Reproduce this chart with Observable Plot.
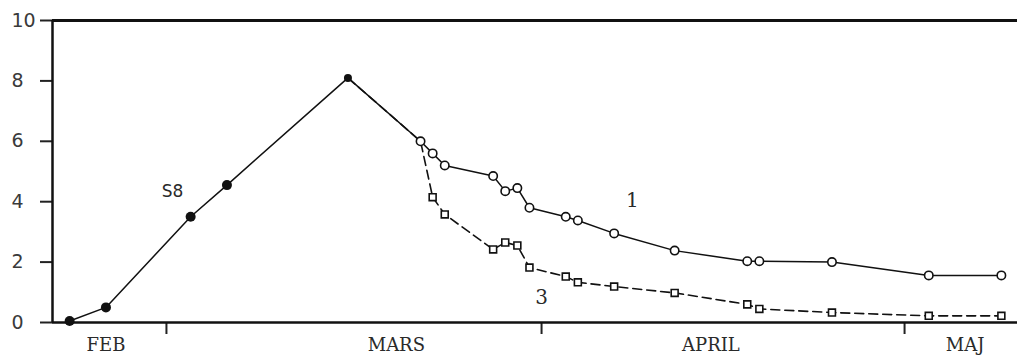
<!DOCTYPE html>
<html>
<head>
<meta charset="utf-8">
<script src="https://cdn.jsdelivr.net/npm/d3@7"></script>
<script src="https://cdn.jsdelivr.net/npm/@observablehq/plot@0.6"></script>
<style>
  html, body { margin: 0; padding: 0; background: #fff; }
  #chart svg { display: block; }
  #chart svg text.serif-label { letter-spacing: 1px; }
</style>
</head>
<body>
<div id="chart"></div>
<script>
// Measured values (same season), ISO dates
const s8Dates   = ["1978-02-21", "1978-02-24", "1978-03-03", "1978-03-06", "1978-03-16"];
const s8Values  = [0.05, 0.5, 3.5, 4.55, 8.1];

// Curve 1 (open circles, solid), starting at the S8 peak
const c1Dates  = ["1978-03-16", "1978-03-22", "1978-03-23", "1978-03-24", "1978-03-28", "1978-03-29",
                  "1978-03-30", "1978-03-31", "1978-04-03", "1978-04-04", "1978-04-07", "1978-04-12",
                  "1978-04-18", "1978-04-19", "1978-04-25", "1978-05-03", "1978-05-09"];
const c1Values = [8.1, 6.0, 5.6, 5.2, 4.85, 4.35, 4.45, 3.8, 3.5, 3.38, 2.95, 2.38,
                  2.03, 2.03, 2.0, 1.56, 1.56];

// Curve 3 (open squares, dashed), branching off at 22 March
const c3Dates  = ["1978-03-16", "1978-03-22", "1978-03-23", "1978-03-24", "1978-03-28", "1978-03-29",
                  "1978-03-30", "1978-03-31", "1978-04-03", "1978-04-04", "1978-04-07", "1978-04-12",
                  "1978-04-18", "1978-04-19", "1978-04-25", "1978-05-03", "1978-05-09"];
const c3Values = [8.1, 6.0, 4.15, 3.58, 2.42, 2.65, 2.55, 1.82, 1.52, 1.33, 1.19, 0.98,
                  0.6, 0.45, 0.33, 0.22, 0.22];

// Axis: month boundaries, month names, y ticks
const monthStarts = ["1978-03-01", "1978-04-01", "1978-05-01"];
const monthNames  = ["FEB", "MARS", "APRIL", "MAJ"];
const monthLabelDates = ["1978-02-24", "1978-03-20", "1978-04-15", "1978-05-06"];
const yTicks = [0, 2, 4, 6, 8, 10];

// Curve labels
const curveLabels = ["S8", "1", "3"];
const curveLabelDates = ["1978-03-01T12:00", "1978-04-08T12:00", "1978-04-01"];
const curveLabelValues = [4.35, 4.05, 0.82];

const parse = s => new Date(s.length > 10 ? s + "Z" : s + "T00:00Z");
const rows = (dates, values) => dates.map((d, i) => ({date: parse(d), value: values[i]}));

const s8 = rows(s8Dates, s8Values);
const c1 = rows(c1Dates, c1Values);
const c3 = rows(c3Dates, c3Values);
const labels = curveLabels.map((t, i) => ({text: t, date: parse(curveLabelDates[i]), value: curveLabelValues[i]}));
const monthLabelMap = new Map(monthLabelDates.map((d, i) => [+parse(d), monthNames[i]]));

const xStart = parse("1978-02-19T14:00");
const xEnd = parse("1978-05-10T08:00");
const serif = "'DejaVu Serif', serif";
const sans = "'DejaVu Sans', sans-serif";

const chart = Plot.plot({
  width: 1017,
  height: 360,
  marginTop: 20,
  marginBottom: 38,
  marginLeft: 52,
  marginRight: 0,
  style: {background: "#fff", color: "#222"},
  x: {type: "utc", domain: [xStart, xEnd], axis: null},
  y: {domain: [0, 10], axis: null},
  marks: [
    // y axis: ticks to the left, labels left-aligned at the page edge
    Plot.axisY({
      ticks: yTicks, tickSize: 12, tickPadding: 29, textAnchor: "start",
      fontSize: 19, fontFamily: sans, label: null,
      stroke: "#222", strokeWidth: 2, fill: "#3a3a3a"
    }),
    // x axis: month-boundary ticks, unlabeled
    Plot.axisX({
      ticks: monthStarts.map(parse), tickSize: 12, tickFormat: () => "",
      label: null, stroke: "#222", strokeWidth: 2
    }),
    // month names centred under each month
    Plot.axisX({
      ticks: monthLabelDates.map(parse), tickSize: 0, tickPadding: 16,
      tickFormat: d => monthLabelMap.get(+d),
      fontSize: 18, fontFamily: serif, fill: "#2a2a2a", label: null,
      className: "serif-label"
    }),
    // frame: left, bottom and top edges
    Plot.ruleX([xStart], {stroke: "#111", strokeWidth: 2.5}),
    Plot.ruleY([0], {stroke: "#111", strokeWidth: 2.5}),
    Plot.ruleY([10], {stroke: "#111", strokeWidth: 3}),
    // curves
    Plot.line(s8, {x: "date", y: "value", stroke: "#111", strokeWidth: 1.5}),
    Plot.line(c3, {x: "date", y: "value", stroke: "#111", strokeWidth: 1.6, strokeDasharray: "9,5"}),
    Plot.line(c1, {x: "date", y: "value", stroke: "#111", strokeWidth: 1.5}),
    Plot.dot(s8.slice(0, -1), {x: "date", y: "value", r: 5, fill: "#111", stroke: "none"}),
    Plot.dot(s8.slice(-1), {x: "date", y: "value", r: 4, fill: "#111", stroke: "none"}),
    Plot.dot(c3.slice(2), {x: "date", y: "value", symbol: "square", r: 3.9, fill: "#fff", stroke: "#111", strokeWidth: 1.6}),
    Plot.dot(c1.slice(1), {x: "date", y: "value", r: 4.2, fill: "#fff", stroke: "#111", strokeWidth: 1.6}),
    // curve labels
    Plot.text(labels.slice(0, 1), {x: "date", y: "value", text: "text", fontSize: 17, fontFamily: sans, fill: "#2a2a2a"}),
    Plot.text(labels.slice(1), {x: "date", y: "value", text: "text", fontSize: 20, fontFamily: serif, fontWeight: 300, fill: "#2a2a2a"})
  ]
});

document.getElementById("chart").appendChild(chart);
</script>
</body>
</html>
